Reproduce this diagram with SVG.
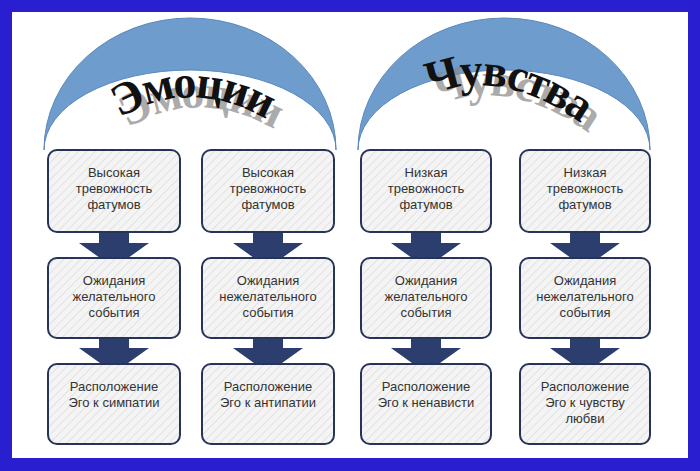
<svg xmlns="http://www.w3.org/2000/svg" width="700" height="471" viewBox="0 0 700 471">
<defs>
<pattern id="h" width="6" height="6" patternUnits="userSpaceOnUse" patternTransform="rotate(45)">
<rect width="6" height="6" fill="#f4f4f4"/><line x1="0" y1="0" x2="0" y2="6" stroke="#dcdcdc" stroke-width="1.5"/>
</pattern>
<path id="p1" d="M95,135 Q190,60 290,135"/>
<path id="p1s" d="M103,145 Q198,70 298,145"/>
<path id="p2" d="M418,100 Q500,60 590,130"/>
<path id="p2s" d="M426,110 Q508,70 598,140"/>
<g id="arr"><path d="M-15,0 h30 v12 h20 l-35,25 l-35,-25 h20 z" fill="#2c3e6e"/></g>
</defs>
<style>
.b{fill:url(#h);stroke:#27345a;stroke-width:2}
.t{font-family:"Liberation Sans",Arial,sans-serif;font-size:13px;fill:#333;text-anchor:middle}
.ti{font-family:"Liberation Serif","Times New Roman",serif;font-weight:bold;font-size:46px;letter-spacing:-2px}
</style>
<rect width="700" height="471" fill="#2a1fd0"/>
<rect x="12" y="12" width="676" height="446" fill="#fff"/>
<g id="arcs" fill="#6e9ccd" stroke="#5a88bb" stroke-width="1">
<path d="M44,150 A146,132 0 0 1 336,150 A146,80 0 0 0 44,150 Z"/>
<path d="M358,150 A146,132 0 0 1 650,150 A146,80 0 0 0 358,150 Z"/>
</g>
<g id="titles">
<text class="ti" fill="#888" opacity="0.7"><textPath href="#p1s" startOffset="50%" text-anchor="middle">Эмоции</textPath></text>
<text class="ti" fill="#111"><textPath href="#p1" startOffset="50%" text-anchor="middle">Эмоции</textPath></text>
<text class="ti" fill="#888" opacity="0.7"><textPath href="#p2s" startOffset="50%" text-anchor="middle">Чувства</textPath></text>
<text class="ti" fill="#111"><textPath href="#p2" startOffset="50%" text-anchor="middle">Чувства</textPath></text>
</g>
<g id="connectors">
<use href="#arr" x="114" y="231"/><use href="#arr" x="268" y="231"/><use href="#arr" x="426" y="231"/><use href="#arr" x="585" y="231"/>
<use href="#arr" x="114" y="336"/><use href="#arr" x="268" y="336"/><use href="#arr" x="426" y="336"/><use href="#arr" x="585" y="336"/>
</g>
<g id="n1"><rect class="b" x="48" y="150" width="132" height="82" rx="9"/><text class="t" x="114" y="177">Высокая<tspan x="114" dy="16">тревожность</tspan><tspan x="114" dy="16">фатумов</tspan></text></g>
<g id="n2"><rect class="b" x="202" y="150" width="132" height="82" rx="9"/><text class="t" x="268" y="177">Высокая<tspan x="268" dy="16">тревожность</tspan><tspan x="268" dy="16">фатумов</tspan></text></g>
<g id="n3"><rect class="b" x="361" y="150" width="130" height="82" rx="9"/><text class="t" x="426" y="177">Низкая<tspan x="426" dy="16">тревожность</tspan><tspan x="426" dy="16">фатумов</tspan></text></g>
<g id="n4"><rect class="b" x="520" y="150" width="130" height="82" rx="9"/><text class="t" x="585" y="177">Низкая<tspan x="585" dy="16">тревожность</tspan><tspan x="585" dy="16">фатумов</tspan></text></g>
<g id="n5"><rect class="b" x="48" y="258" width="132" height="80" rx="9"/><text class="t" x="114" y="285">Ожидания<tspan x="114" dy="16">желательного</tspan><tspan x="114" dy="16">события</tspan></text></g>
<g id="n6"><rect class="b" x="202" y="258" width="132" height="80" rx="9"/><text class="t" x="268" y="285">Ожидания<tspan x="268" dy="16">нежелательного</tspan><tspan x="268" dy="16">события</tspan></text></g>
<g id="n7"><rect class="b" x="361" y="258" width="130" height="80" rx="9"/><text class="t" x="426" y="285">Ожидания<tspan x="426" dy="16">желательного</tspan><tspan x="426" dy="16">события</tspan></text></g>
<g id="n8"><rect class="b" x="520" y="258" width="130" height="80" rx="9"/><text class="t" x="585" y="285">Ожидания<tspan x="585" dy="16">нежелательного</tspan><tspan x="585" dy="16">события</tspan></text></g>
<g id="n9"><rect class="b" x="48" y="364" width="132" height="80" rx="9"/><text class="t" x="114" y="391">Расположение<tspan x="114" dy="16">Эго к  симпатии</tspan></text></g>
<g id="n10"><rect class="b" x="202" y="364" width="132" height="80" rx="9"/><text class="t" x="268" y="391">Расположение<tspan x="268" dy="16">Эго к антипатии</tspan></text></g>
<g id="n11"><rect class="b" x="361" y="364" width="130" height="80" rx="9"/><text class="t" x="426" y="391">Расположение<tspan x="426" dy="16">Эго к ненависти</tspan></text></g>
<g id="n12"><rect class="b" x="520" y="364" width="130" height="80" rx="9"/><text class="t" x="585" y="391">Расположение<tspan x="585" dy="16">Эго к чувству</tspan><tspan x="585" dy="16">любви</tspan></text></g>
</svg>
